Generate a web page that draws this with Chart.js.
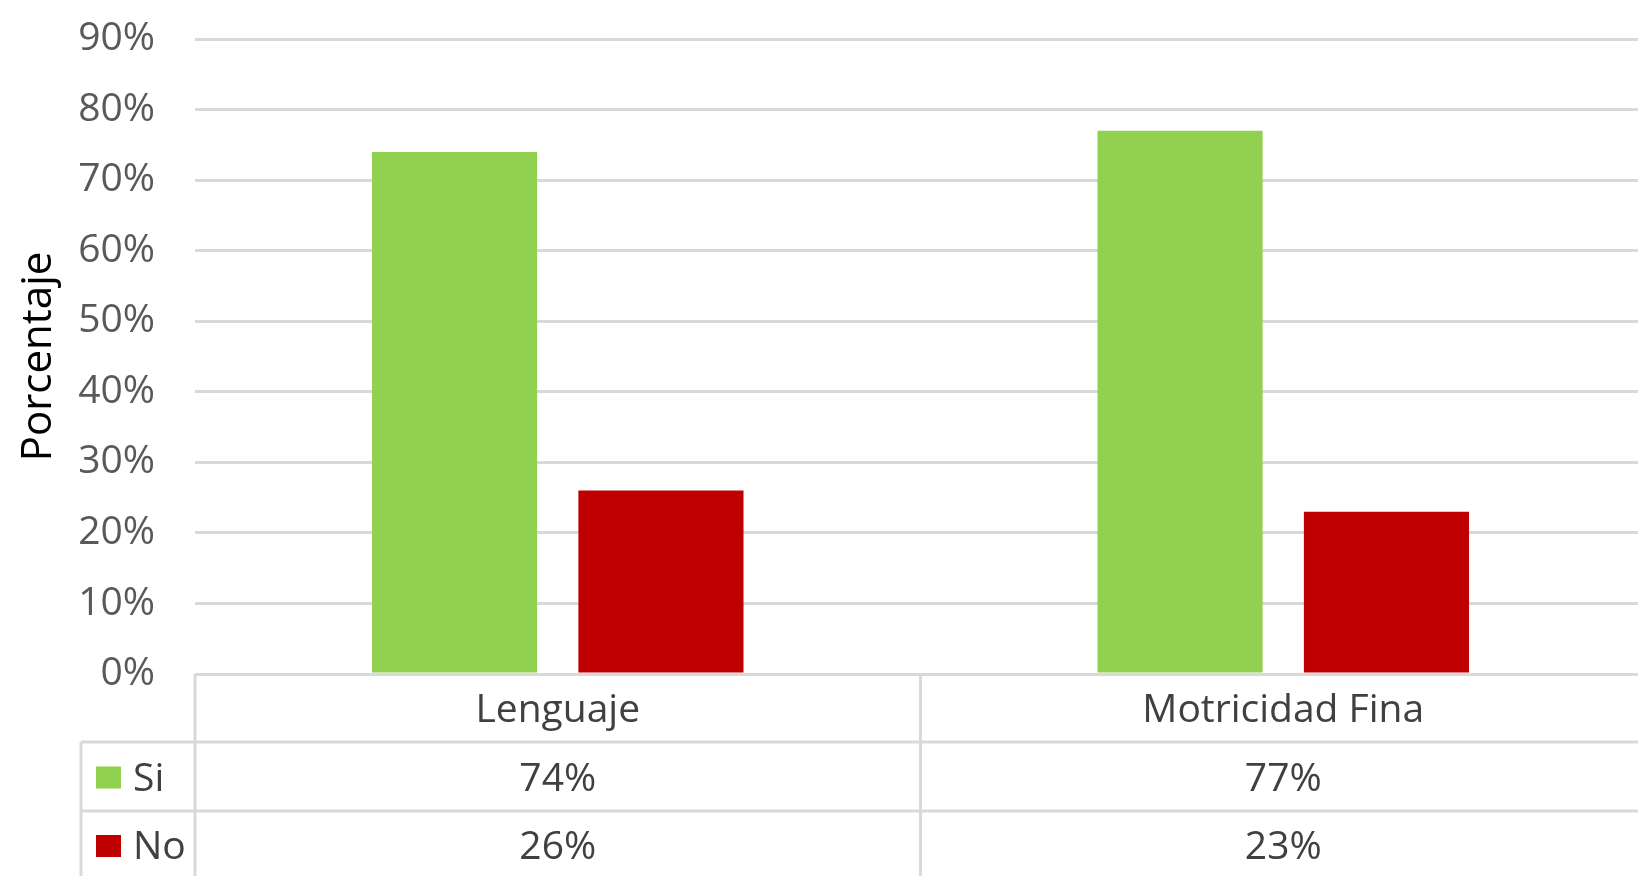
<!DOCTYPE html>
<html>
<head>
<meta charset="utf-8">
<title>Porcentaje - Lenguaje y Motricidad Fina</title>
<script src="https://cdn.jsdelivr.net/npm/chart.js@4.4.0/dist/chart.umd.min.js"></script>
<style>
    html, body { margin: 0; padding: 0; background: #fff; overflow: hidden; }
    #wrap { width: 1646px; height: 876px; }
</style>
</head>
<body>
<div id="wrap"><canvas id="chart" width="1646" height="876"></canvas></div>
<script>
const categories = ['Lenguaje', 'Motricidad Fina'];
const seriesNames = ['Si', 'No'];
const siValues = [74, 77];
const noValues = [26, 23];
const yMax = 90;
const yStep = 10;
const seriesColors = ['#92D050', '#C00000'];

const FONT = "'Open Sans', sans-serif";
const TEXT_COLOR = '#404040';
const LINE_COLOR = '#d9d9d9';

// draws the data table under the plot (Excel style)
const dataTable = {
    id: 'dataTable',
    afterDraw(chart) {
        const ctx = chart.ctx;
        const area = chart.chartArea;
        const n = chart.data.labels.length;
        const colW = (area.right - area.left) / n;
        const top = area.bottom;
        const rowLines = [top + 68, top + 137];
        const legendLeft = 81;

        ctx.save();
        ctx.strokeStyle = LINE_COLOR;
        ctx.lineWidth = 3;
        ctx.beginPath();
        rowLines.forEach(y => {
            ctx.moveTo(legendLeft, y);
            ctx.lineTo(area.right, y);
        });
        for (let i = 0; i <= n; i++) {
            const x = area.left + i * colW;
            ctx.moveTo(x, top);
            ctx.lineTo(x, chart.height);
        }
        ctx.moveTo(legendLeft, rowLines[0]);
        ctx.lineTo(legendLeft, chart.height);
        ctx.stroke();

        ctx.font = '39px ' + FONT;
        ctx.fillStyle = TEXT_COLOR;
        ctx.textBaseline = 'alphabetic';
        ctx.textAlign = 'center';

        // header row: category names
        const headerMid = (top + rowLines[0]) / 2;
        chart.data.labels.forEach((lab, i) => {
            ctx.fillText(lab, area.left + (i + 0.5) * colW, headerMid + 14);
        });

        // one row per series
        const rowMids = [(rowLines[0] + rowLines[1]) / 2, rowLines[1] + 34];
        chart.data.datasets.forEach((ds, r) => {
            const mid = rowMids[r];
            ctx.textAlign = 'center';
            ctx.fillStyle = TEXT_COLOR;
            ds.data.forEach((v, i) => {
                ctx.fillText(v + '%', area.left + (i + 0.5) * colW, mid + 14);
            });
            ctx.fillStyle = ds.backgroundColor;
            ctx.fillRect(96, mid - 10, 25, 22);
            ctx.fillStyle = TEXT_COLOR;
            ctx.textAlign = 'left';
            ctx.fillText(ds.label, 133, mid + 14);
        });
        ctx.restore();
    }
};

new Chart(document.getElementById('chart'), {
    type: 'bar',
    data: {
        labels: categories,
        datasets: [
            { label: seriesNames[0], data: siValues, backgroundColor: seriesColors[0] },
            { label: seriesNames[1], data: noValues, backgroundColor: seriesColors[1] }
        ]
    },
    options: {
        responsive: false,
        animation: false,
        categoryPercentage: 0.569,
        barPercentage: 0.80,
        layout: { padding: { top: 39, bottom: 202, left: 0, right: 0 } },
        plugins: {
            legend: { display: false },
            tooltip: { enabled: false }
        },
        scales: {
            x: { display: false },
            y: {
                min: 0,
                max: yMax,
                ticks: {
                    stepSize: yStep,
                    callback: v => v + '%',
                    color: '#595959',
                    font: { family: FONT, size: 39 },
                    padding: 0
                },
                // invisible tick marks give the gap between labels and plot
                grid: { color: LINE_COLOR, lineWidth: 3, drawTicks: true, tickLength: 40, tickColor: 'rgba(0,0,0,0)' },
                border: { display: false },
                title: {
                    display: true,
                    text: 'Porcentaje',
                    color: '#000',
                    font: { family: FONT, size: 42 },
                    padding: { top: 14, bottom: 0 }
                },
                afterFit(scale) { scale.width = 195; }
            }
        }
    },
    plugins: [dataTable]
});
</script>
</body>
</html>
